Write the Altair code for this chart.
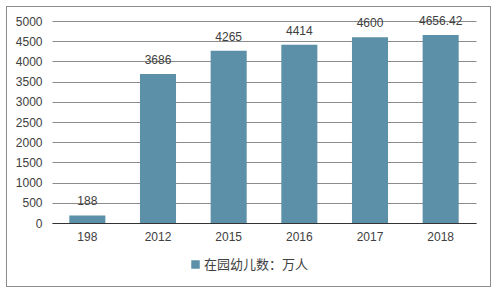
import altair as alt
import pandas as pd

years = ["198", "2012", "2015", "2016", "2017", "2018"]
values = [188, 3686, 4265, 4414, 4600, 4656.42]
labels = ["188", "3686", "4265", "4414", "4600", "4656.42"]
series = "在园幼儿数：万人"

df = pd.DataFrame({"year": years, "value": values, "label": labels, "series": [series] * len(years)})

W, H = 424, 202
LEFT, TOP = 52, 21

base = alt.Chart(df)

xenc = alt.X("year:N", sort=years, title=None,
             scale=alt.Scale(paddingInner=0.49, paddingOuter=0.245),
             axis=alt.Axis(labelAngle=0, labelFont="Liberation Sans", labelFontSize=12,
                           labelColor="#404040", ticks=False, domainColor="#333333",
                           domainWidth=1, labelPadding=8))
yenc = alt.Y("value:Q", title=None,
             scale=alt.Scale(domain=[0, 5000], nice=False),
             axis=alt.Axis(values=list(range(0, 5001, 500)), format="d",
                           labelFont="Liberation Sans",
                           labelFontSize=12, labelColor="#404040", ticks=False, domain=False,
                           gridColor="#8C8C8C", gridWidth=1, labelPadding=10))

bars = base.mark_bar(color="#5B90A8").encode(
    x=xenc,
    y=yenc,
    color=alt.Color("series:N", scale=alt.Scale(range=["#5B90A8"]), title=None,
                    legend=alt.Legend(orient="none", legendX=137, legendY=237,
                                      symbolType="square", symbolSize=72,
                                      symbolStrokeWidth=0, labelOffset=2,
                                      labelFont="Noto Sans CJK SC", labelFontSize=13,
                                      labelColor="#404040")),
)

text = base.mark_text(dy=-7, baseline="bottom", font="Liberation Sans", fontSize=12,
                      color="#404040").encode(
    x=xenc,
    y=yenc,
    text="label:N",
)

border = base.mark_rect(fill=None, stroke="#8C8C8C", strokeWidth=1).encode(
    x=alt.value(6 - LEFT + 0.5), x2=alt.value(490 - LEFT + 0.5),
    y=alt.value(6 - TOP + 0.5), y2=alt.value(286 - TOP + 0.5),
)

chart = alt.layer(bars, text, border).properties(
    width=W, height=H,
    autosize=alt.AutoSizeParams(type="none"),
    padding={"left": LEFT, "top": TOP, "right": 502 - LEFT - W, "bottom": 294 - TOP - H},
    background="white",
).configure_view(stroke=None)

chart.save("out.html", embed_options={"renderer": "svg", "actions": False})
